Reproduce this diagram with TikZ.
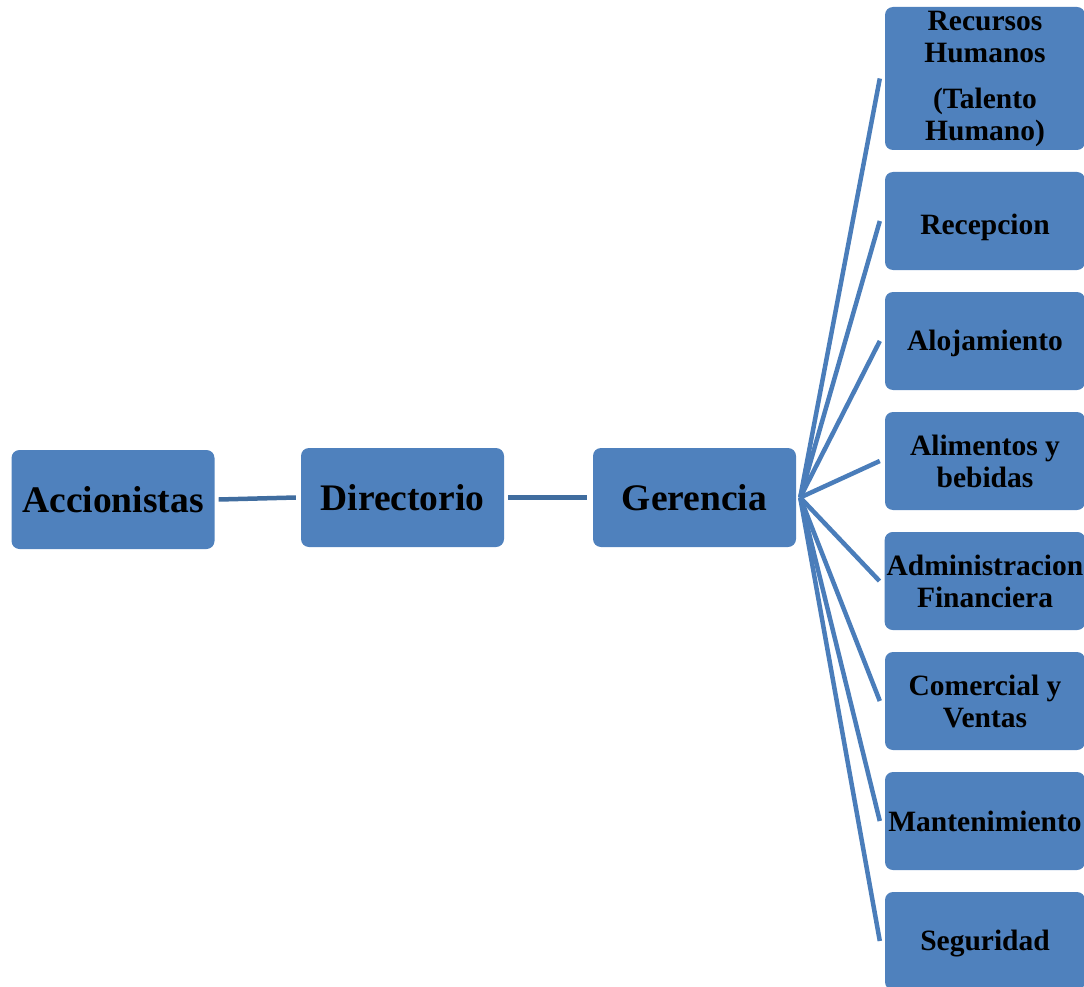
\documentclass[tikz,border=0pt]{standalone}
\usepackage{fontspec}
\setmainfont{Liberation Serif}
\definecolor{boxblue}{HTML}{4F81BD}
\definecolor{fanblue}{HTML}{4A7DBA}
\definecolor{chainblue}{HTML}{406D9F}
% lower a label without changing the size of its node
\newcommand{\lowerby}[2]{\raisebox{-#1}[\height][\depth]{#2}}
\begin{document}
\begin{tikzpicture}[x=1pt,y=-1pt,
  box/.style={draw=none, fill=boxblue, rounded corners=8pt, align=center,
    inner sep=2pt, text=black},
  mainbox/.style={box, minimum width=203pt, minimum height=99pt,
    font=\fontsize{37.5}{41}\selectfont\bfseries},
  unitbox/.style={box, minimum width=200pt, minimum height=98pt,
    font=\fontsize{29.5}{32}\selectfont\bfseries},
  chain/.style={line width=4.5pt, draw=chainblue},
  fan/.style={line width=4.5pt, draw=fanblue}
]
\useasboundingbox (0,0) rectangle (1084,987);
\clip (0,0) rectangle (1084,987);

% main chain
\node[mainbox] (acc) at (113,499.5) {Accionistas};
\node[mainbox] (dir) at (402.5,497.5) {Directorio};
\node[mainbox] (ger) at (694.5,497.5) {Gerencia};

% departments
\node[unitbox, minimum height=143pt] (u1) at (985,78.5)
  {Recursos\\Humanos\\[14pt](Talento\\Humano)};
\node[unitbox] (u2) at (985,221) {\lowerby{6pt}{Recepcion}};
\node[unitbox] (u3) at (985,341) {\lowerby{2pt}{Alojamiento}};
\node[unitbox] (u4) at (985,461) {Alimentos y\\bebidas};
\node[unitbox] (u5) at (985,581) {Administracion\\Financiera};
\node[unitbox] (u6) at (985,701) {Comercial y\\Ventas};
\node[unitbox] (u7) at (985,821) {Mantenimiento};
\node[unitbox] (u8) at (985,941) {\lowerby{3pt}{Seguridad}};

% connectors
\draw[chain] ([xshift=4pt]acc.east) -- ([xshift=-5pt]dir.west);
\draw[chain] ([xshift=4pt]dir.east) -- ([xshift=-6pt]ger.west);

\coordinate (hub) at ([xshift=4pt]ger.east);
\foreach \u in {u1,u2,u3,u4,u5,u6,u7,u8}
  \draw[fan] (hub) -- ([xshift=-5pt]\u.west);
\end{tikzpicture}
\end{document}
